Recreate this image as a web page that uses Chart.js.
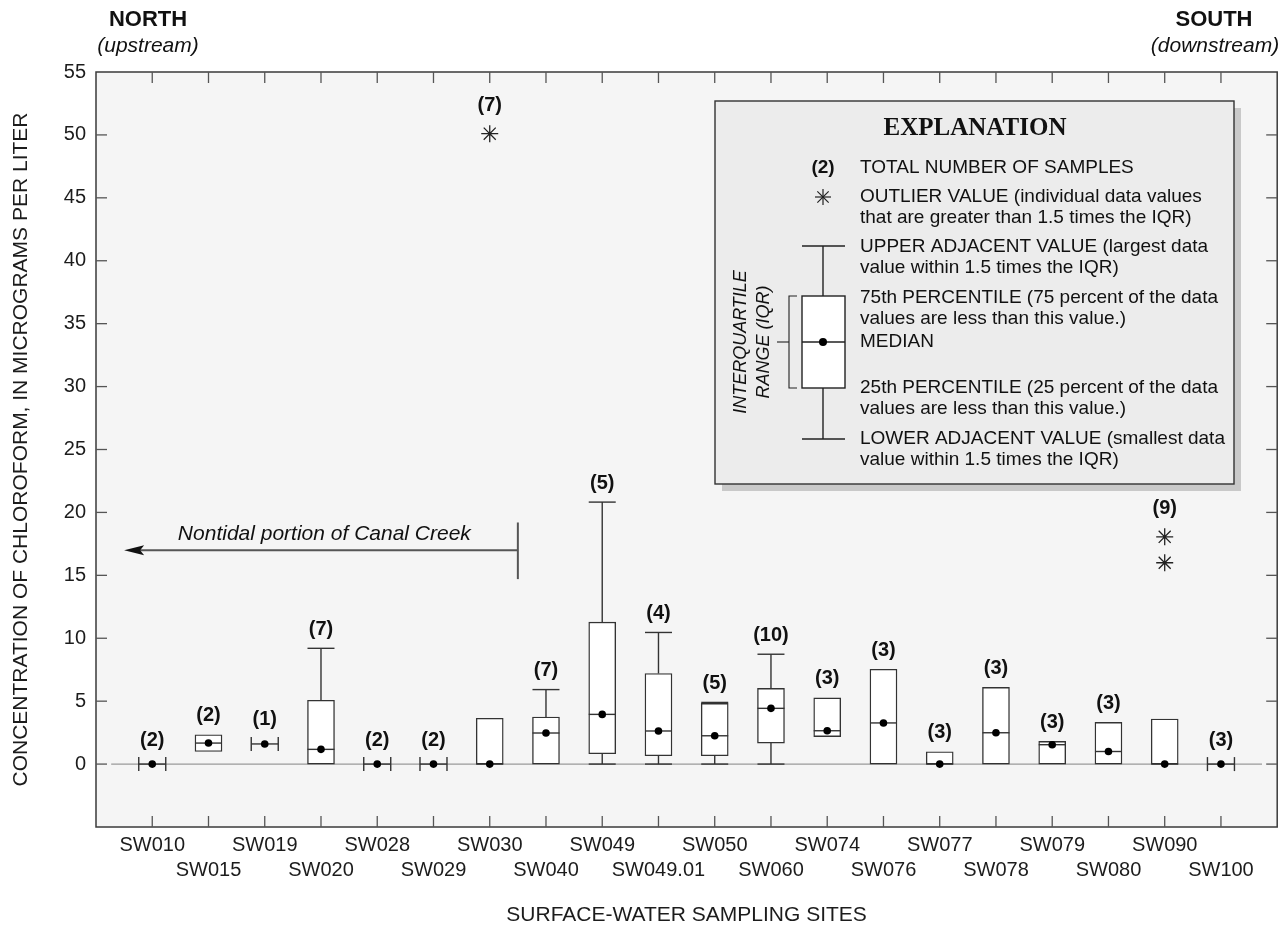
<!DOCTYPE html>
<html>
<head>
<meta charset="utf-8">
<title>Chloroform in surface water, Canal Creek</title>
<script src="https://cdn.jsdelivr.net/npm/chart.js@4.4.1/dist/chart.umd.min.js"></script>
<style>
  html, body { margin: 0; padding: 0; background: #fff; }
  #wrap { position: relative; width: 1287px; height: 928px; }
</style>
</head>
<body>
<div id="wrap"><canvas id="chloroformChart"></canvas></div>
<script>
// sampling sites, north (upstream) to south (downstream)
const sites = ['SW010', 'SW015', 'SW019', 'SW020', 'SW028', 'SW029', 'SW030', 'SW040', 'SW049', 'SW049.01',
               'SW050', 'SW060', 'SW074', 'SW076', 'SW077', 'SW078', 'SW079', 'SW080', 'SW090', 'SW100'];
const sampleCounts = [2, 2, 1, 7, 2, 2, 7, 7, 5, 4, 5, 10, 3, 3, 3, 3, 3, 3, 9, 3];

// box statistics, micrograms per liter
const lowerAdjacent = [0, 1.0, 1.6, 0, 0, 0, 0, 0, 0,    0,    0,    0,    2.18, 0,    0,    0,    0,    0,    0,    0];
const pct25         = [0, 1.0, 1.6, 0, 0, 0, 0, 0, 0.82, 0.66, 0.66, 1.67, 2.18, 0,    0,    0,    0,    0,    0,    0];
const medians       = [0, 1.67, 1.6, 1.17, 0, 0, 0, 2.47, 3.95, 2.63, 2.25, 4.43, 2.65, 3.27, 0, 2.49, 1.54, 1.0, 0, 0];
const pct75         = [0, 2.33, 1.6, 5.07, 0, 0, 3.64, 3.74, 11.28, 7.2, 4.82, 6.02, 5.26, 7.54, 0.98, 6.1, 1.8, 3.32, 3.58, 0];
const upperAdjacent = [0, 2.33, 1.6, 9.2, 0, 0, 3.64, 5.92, 20.82, 10.46, 4.9, 8.73, 5.26, 7.54, 0.98, 6.1, 1.8, 3.32, 3.58, 0];

const outlierSites = ['SW030', 'SW090', 'SW090'];
const outlierValues = [50.1, 18.06, 16.0];

const yMin = -5, yMax = 55, yStep = 5;

const SANS = '"Liberation Sans", Arial, Helvetica, sans-serif';
const INK = '#1c1c1c';
const BOX_W = 27;

function idx(site) { return sites.indexOf(site); }

function line(ctx, x1, y1, x2, y2) {
    ctx.beginPath();
    ctx.moveTo(x1, y1);
    ctx.lineTo(x2, y2);
    ctx.stroke();
}

function star(ctx, cx, cy, r) {
    for (let k = 0; k < 4; k++) {
        const ang = k * Math.PI / 4;
        line(ctx, cx - r * Math.cos(ang), cy - r * Math.sin(ang), cx + r * Math.cos(ang), cy + r * Math.sin(ang));
    }
}

function drawExplanation(ctx) {
    const bx = 715, by = 101, bw = 519, bh = 383;
    ctx.save();
    ctx.fillStyle = '#c9c9c9';
    ctx.fillRect(bx + 7, by + 7, bw, bh);
    ctx.fillStyle = '#ececec';
    ctx.fillRect(bx, by, bw, bh);
    ctx.strokeStyle = '#333';
    ctx.lineWidth = 1.4;
    ctx.strokeRect(bx, by, bw, bh);

    ctx.fillStyle = '#111';
    ctx.textBaseline = 'middle';
    ctx.textAlign = 'center';
    ctx.font = 'bold 25px "Liberation Serif", "Times New Roman", serif';
    ctx.fillText('EXPLANATION', 975, 129);

    const gx = 823, tx = 860;
    ctx.font = 'bold 19px ' + SANS;
    ctx.fillText('(2)', gx, 168);

    ctx.strokeStyle = '#222';
    ctx.lineWidth = 1.2;
    star(ctx, gx, 197, 8);

    // sample box
    ctx.lineWidth = 1.4;
    line(ctx, gx - 21, 246, gx + 22, 246);
    line(ctx, gx, 246, gx, 296);
    line(ctx, gx, 388, gx, 439);
    line(ctx, gx - 21, 439, gx + 22, 439);
    ctx.fillStyle = '#fff';
    ctx.fillRect(gx - 21, 296, 43, 92);
    ctx.strokeRect(gx - 21, 296, 43, 92);
    line(ctx, gx - 21, 342, gx + 22, 342);
    ctx.fillStyle = '#000';
    ctx.beginPath();
    ctx.arc(gx, 342, 4, 0, Math.PI * 2);
    ctx.fill();

    // IQR bracket
    ctx.lineWidth = 1.1;
    ctx.beginPath();
    ctx.moveTo(797, 296); ctx.lineTo(789, 296); ctx.lineTo(789, 388); ctx.lineTo(797, 388);
    ctx.stroke();
    line(ctx, 777, 342, 789, 342);

    ctx.save();
    ctx.translate(741, 342);
    ctx.rotate(-Math.PI / 2);
    ctx.font = 'italic 18px ' + SANS;
    ctx.fillStyle = '#111';
    ctx.fillText('INTERQUARTILE', 0, 0);
    ctx.fillText('RANGE (IQR)', 0, 23);
    ctx.restore();

    const rows = [
        ['TOTAL NUMBER OF SAMPLES', 168],
        ['OUTLIER VALUE (individual data values', 197],
        ['that are greater than 1.5 times the IQR)', 218],
        ['UPPER ADJACENT VALUE (largest data', 247],
        ['value within 1.5 times the IQR)', 268],
        ['75th PERCENTILE (75 percent of the data', 298],
        ['values are less than this value.)', 319],
        ['MEDIAN', 342],
        ['25th PERCENTILE (25 percent of the data', 388],
        ['values are less than this value.)', 409],
        ['LOWER ADJACENT VALUE (smallest data', 439],
        ['value within 1.5 times the IQR)', 460]
    ];
    ctx.textAlign = 'left';
    ctx.font = '19px ' + SANS;
    ctx.fillStyle = '#111';
    rows.forEach(r => ctx.fillText(r[0], tx, r[1]));
    ctx.restore();
}

const boxPlotExtras = {
    id: 'boxPlotExtras',
    beforeDraw(chart) {
        const {ctx, chartArea: a} = chart;
        ctx.save();
        ctx.fillStyle = '#f5f5f5';
        ctx.fillRect(a.left, a.top, a.right - a.left, a.bottom - a.top);
        ctx.restore();
    },
    beforeDatasetsDraw(chart) {
        const {ctx, scales: {x, y}} = chart;
        ctx.save();
        ctx.strokeStyle = '#9a9a9a';
        ctx.lineWidth = 1.2;
        line(ctx, x.getPixelForValue(-0.73), y.getPixelForValue(0), x.getPixelForValue(sites.length - 0.27), y.getPixelForValue(0));
        ctx.restore();
    },
    afterDatasetDraw(chart, args) {
        if (chart.data.datasets[args.index].label !== 'Interquartile range') return;
        const {ctx, scales: {x, y}} = chart;
        ctx.save();
        ctx.strokeStyle = '#333';
        ctx.lineWidth = 1.4;
        sites.forEach((s, i) => {
            const px = x.getPixelForValue(i), h = BOX_W / 2;
            if (pct25[i] === pct75[i]) {
                const py = y.getPixelForValue(pct25[i]);
                line(ctx, px - h, py, px + h, py);
                line(ctx, px - h, py - 7, px - h, py + 7);
                line(ctx, px + h, py - 7, px + h, py + 7);
                return;
            }
            if (upperAdjacent[i] > pct75[i]) {
                const top = y.getPixelForValue(upperAdjacent[i]);
                line(ctx, px, y.getPixelForValue(pct75[i]), px, top);
                line(ctx, px - h, top, px + h, top);
            }
            if (lowerAdjacent[i] < pct25[i]) {
                const bot = y.getPixelForValue(lowerAdjacent[i]);
                line(ctx, px, y.getPixelForValue(pct25[i]), px, bot);
                line(ctx, px - h, bot, px + h, bot);
            }
            const pm = y.getPixelForValue(medians[i]);
            line(ctx, px - h, pm, px + h, pm);
        });
        ctx.restore();
    },
    afterDraw(chart) {
        const {ctx, chartArea: a, scales: {x, y}} = chart;
        ctx.save();

        // frame with inward ticks
        ctx.strokeStyle = '#3a3a3a';
        ctx.lineWidth = 1.5;
        ctx.strokeRect(a.left, a.top, a.right - a.left, a.bottom - a.top);
        ctx.strokeStyle = '#555';
        ctx.lineWidth = 1.3;
        for (let v = yMin + yStep; v < yMax; v += yStep) {
            const py = y.getPixelForValue(v);
            line(ctx, a.left, py, a.left + 11, py);
            line(ctx, a.right - 11, py, a.right, py);
        }
        sites.forEach((s, i) => {
            const px = x.getPixelForValue(i);
            line(ctx, px, a.top, px, a.top + 11);
            line(ctx, px, a.bottom - 11, px, a.bottom);
        });

        // sample counts
        ctx.fillStyle = '#111';
        ctx.textAlign = 'center';
        ctx.textBaseline = 'middle';
        ctx.font = 'bold 20px ' + SANS;
        sites.forEach((s, i) => {
            let top = y.getPixelForValue(upperAdjacent[i]) - (pct25[i] === pct75[i] ? 24 : 19);
            outlierSites.forEach((o, k) => {
                if (o === s) top = Math.min(top, y.getPixelForValue(outlierValues[k]) - 28);
            });
            ctx.fillText('(' + sampleCounts[i] + ')', x.getPixelForValue(i), top);
        });

        // nontidal reach arrow
        const ay = y.getPixelForValue(17);
        const tip = x.getPixelForValue(-0.5), end = x.getPixelForValue(6.5);
        ctx.strokeStyle = '#555';
        ctx.lineWidth = 2;
        line(ctx, tip + 8, ay, end, ay);
        line(ctx, end, y.getPixelForValue(19.2), end, y.getPixelForValue(14.7));
        ctx.fillStyle = '#111';
        ctx.beginPath();
        ctx.moveTo(tip, ay);
        ctx.lineTo(tip + 20, ay - 5);
        ctx.lineTo(tip + 16, ay);
        ctx.lineTo(tip + 20, ay + 5);
        ctx.closePath();
        ctx.fill();
        ctx.font = 'italic 21px ' + SANS;
        ctx.fillText('Nontidal portion of Canal Creek', x.getPixelForValue(3.06), y.getPixelForValue(18.3));

        // direction captions
        ctx.font = 'bold 22px ' + SANS;
        ctx.fillText('NORTH', 148, 20);
        ctx.fillText('SOUTH', 1214, 20);
        ctx.font = 'italic 21px ' + SANS;
        ctx.fillText('(upstream)', 148, 46);
        ctx.fillText('(downstream)', 1215, 46);
        ctx.restore();

        drawExplanation(ctx);
    }
};

const ctx = document.getElementById('chloroformChart').getContext('2d');
const chloroformChart = new Chart(ctx, {
    type: 'bar',
    data: {
        datasets: [
            {
                type: 'scatter',
                label: 'Median',
                data: sites.map((s, i) => ({x: i, y: medians[i]})),
                pointRadius: 3.8,
                pointBackgroundColor: '#000',
                pointBorderWidth: 0,
                order: 0
            },
            {
                type: 'scatter',
                label: 'Outlier',
                data: outlierSites.map((s, k) => ({x: idx(s), y: outlierValues[k]})),
                pointStyle: 'star',
                pointRadius: 8.5,
                pointBorderColor: '#222',
                pointBorderWidth: 1.3,
                order: 1
            },
            {
                type: 'bar',
                label: 'Interquartile range',
                data: sites.map((s, i) => ({x: i, y: pct25[i] === pct75[i] ? null : [pct25[i], pct75[i]]})),
                backgroundColor: '#fff',
                borderColor: '#333',
                borderWidth: 1.4,
                borderSkipped: false,
                barThickness: BOX_W,
                grouped: false,
                order: 2
            }
        ]
    },
    options: {
        responsive: true,
        maintainAspectRatio: false,
        animation: false,
        layout: {padding: {top: 72, right: 9, left: 0, bottom: 0}},
        plugins: {
            legend: {display: false},
            tooltip: {enabled: false}
        },
        scales: {
            x: {
                type: 'linear',
                offset: false,
                min: -1,
                max: sites.length,
                afterFit: (scale) => { scale.height = 101; },
                grid: {display: false, drawTicks: false, offset: false},
                border: {display: false},
                ticks: {
                    stepSize: 1,
                    autoSkip: false,
                    maxRotation: 0,
                    padding: 6,
                    color: INK,
                    font: {family: SANS, size: 20, lineHeight: 1.25},
                    callback: (v) => {
                        const i = Math.round(v);
                        if (i < 0 || i >= sites.length) return '';
                        return i % 2 ? ['', sites[i]] : sites[i];
                    }
                },
                title: {
                    display: true,
                    text: 'SURFACE-WATER SAMPLING SITES',
                    color: INK,
                    font: {family: SANS, size: 21},
                    padding: {top: 0, bottom: 0}
                }
            },
            y: {
                min: yMin,
                max: yMax,
                afterFit: (scale) => { scale.width = 96; },
                grid: {display: false, drawTicks: false},
                border: {display: false},
                ticks: {
                    stepSize: yStep,
                    padding: 10,
                    color: INK,
                    font: {family: SANS, size: 20},
                    callback: (v) => (v === yMin ? '' : v)
                },
                title: {
                    display: true,
                    text: 'CONCENTRATION OF CHLOROFORM, IN MICROGRAMS PER LITER',
                    color: INK,
                    font: {family: SANS, size: 21},
                    padding: {top: 9, bottom: 0}
                }
            }
        }
    },
    plugins: [boxPlotExtras]
});
</script>
</body>
</html>
